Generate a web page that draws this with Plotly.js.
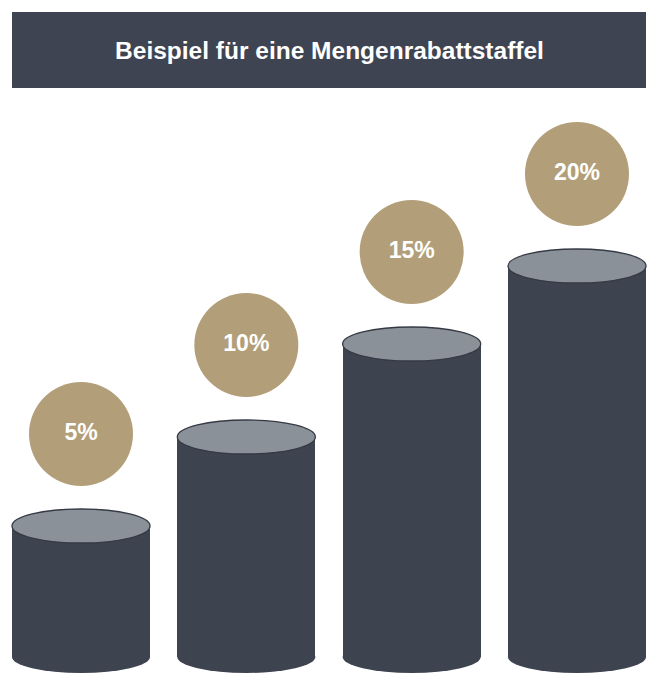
<!DOCTYPE html>
<html>
<head>
<meta charset="utf-8">
<script src="https://cdn.plot.ly/plotly-3.0.1.min.js"></script>
<style>html,body{margin:0;padding:0;background:#fff;}#chart{width:659px;height:684px;}</style>
</head>
<body>
<div id="chart"></div>
<script>
// ---- data ----
const chartTitle = 'Beispiel für eine Mengenrabattstaffel';
const categories = ['5%', '10%', '15%', '20%'];
const discounts = [5, 10, 15, 20];
const columnHeights = [131, 220, 313, 391];   // visual column heights (chart units)

// ---- styling / layout constants ----
const W = 659, H = 684;
const BASE = 27;          // bottom of columns (chart units)
const BAR_W = 0.835;      // column width in category units
const CAP_RY = 17;        // half-height of the elliptical caps
const BADGE_GAP = 92;     // distance from column top to badge centre
const bodyColor = '#3e4350';
const capColor = '#8b9199';
const badgeColor = '#b29f79';
const headerColor = '#3e4451';

const xIdx = categories.map((c, i) => i);
const tops = columnHeights.map(h => BASE + h);

const shapes = [];
// header band
shapes.push({type: 'rect', xref: 'paper', yref: 'paper',
  x0: 12 / W, x1: 646 / W, y0: 1 - 88 / H, y1: 1 - 12 / H,
  fillcolor: headerColor, line: {width: 0}, layer: 'below'});
xIdx.forEach((x, i) => {
  // bottom ellipse
  shapes.push({type: 'circle', xref: 'x', yref: 'y',
    x0: x - BAR_W / 2, x1: x + BAR_W / 2, y0: BASE - CAP_RY + 1, y1: BASE + CAP_RY - 1,
    fillcolor: bodyColor, line: {width: 0}, layer: 'above'});
  // top ellipse
  shapes.push({type: 'circle', xref: 'x', yref: 'y',
    x0: x - BAR_W / 2, x1: x + BAR_W / 2, y0: tops[i] - CAP_RY, y1: tops[i] + CAP_RY,
    fillcolor: capColor, line: {width: 1.3, color: '#353a45'}, layer: 'above'});
});

const bars = {
  type: 'bar', x: xIdx, y: columnHeights, base: BASE, width: BAR_W,
  marker: {color: bodyColor, line: {width: 0}},
  hoverinfo: 'skip', showlegend: false
};

const badges = {
  type: 'scatter', mode: 'markers+text',
  x: xIdx, y: tops.map(t => t + BADGE_GAP),
  text: discounts.map(d => d + '%'),
  textposition: 'middle center',
  textfont: {family: 'Liberation Sans, Arial, sans-serif', size: 23, color: '#ffffff', weight: 'bold'},
  marker: {size: 104, color: badgeColor, line: {width: 0}},
  hoverinfo: 'skip', showlegend: false, cliponaxis: false
};

const spacing = 165.33;
const layout = {
  width: W, height: H,
  margin: {l: 0, r: 0, t: 0, b: 0, pad: 0},
  paper_bgcolor: '#ffffff', plot_bgcolor: '#ffffff',
  title: {text: chartTitle, x: 0.5, xanchor: 'center', xref: 'paper',
    y: 1 - 50 / H, yanchor: 'middle', yref: 'container',
    font: {family: 'Liberation Sans, Arial, sans-serif', size: 24.5, color: '#ffffff', weight: 'bold'}},
  xaxis: {range: [-81 / spacing, (W - 81) / spacing], visible: false, fixedrange: true},
  yaxis: {range: [0, H], visible: false, fixedrange: true},
  shapes: shapes,
  showlegend: false,
  bargap: 0
};

Plotly.newPlot('chart', [bars, badges], layout, {displayModeBar: false, staticPlot: true});
</script>
</body>
</html>
